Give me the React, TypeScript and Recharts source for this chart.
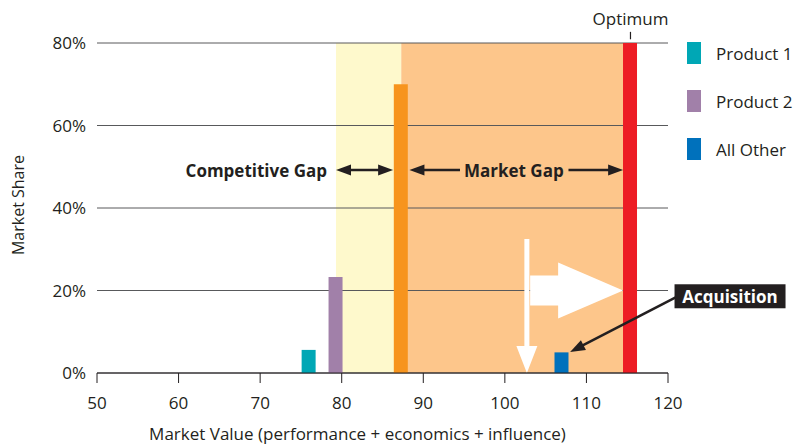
import React from "react";
import {
  Bar,
  CartesianGrid,
  ComposedChart,
  Label,
  ReferenceArea,
  ReferenceDot,
  ReferenceLine,
  XAxis,
  YAxis,
} from "recharts";

// market value (x) and market share (%) of each bar
const marketValues = [76, 79.3, 87.3, 107, 115.4];
const marketShares = [5.6, 23.3, 70, 5, 80];
const seriesKeys = ["product1", "product2", "leader", "allOther", "optimum"];

const legendKeys = ["product1", "product2", "allOther"];
const legendNames = ["Product 1", "Product 2", "All Other"];

const xTicks = [50, 60, 70, 80, 90, 100, 110, 120];
const yTicks = [0, 20, 40, 60, 80];

const colors: Record<string, string> = {
  product1: "#00a7b5",
  product2: "#a180a9",
  leader: "#f7941d",
  allOther: "#0071bc",
  optimum: "#ed1c24",
};

const FONT = '"Open Sans", sans-serif';
const INK = "#231f20";

const data = marketValues.map((mv, i) => ({ mv, [seriesKeys[i]]: marketShares[i] }));

const lineArrow = (both: boolean) => (props: any) => {
  const { x1, y1, x2, y2 } = props;
  const len = Math.hypot(x2 - x1, y2 - y1) || 1;
  const ux = (x2 - x1) / len;
  const uy = (y2 - y1) / len;
  const head = (tx: number, ty: number, dx: number, dy: number) => {
    const bx = tx - dx * 15;
    const by = ty - dy * 15;
    const px = -dy * 5.5;
    const py = dx * 5.5;
    return `${tx},${ty} ${bx + px},${by + py} ${bx - px},${by - py}`;
  };
  return (
    <g>
      <line
        x1={both ? x1 + ux * 12 : x1}
        y1={both ? y1 + uy * 12 : y1}
        x2={x2 - ux * 12}
        y2={y2 - uy * 12}
        stroke={INK}
        strokeWidth={2.5}
      />
      <polygon points={head(x2, y2, ux, uy)} fill={INK} />
      {both && <polygon points={head(x1, y1, -ux, -uy)} fill={INK} />}
    </g>
  );
};

const blockArrow = (shaft: number, headW: number, headL: number) => (props: any) => {
  const { x1, y1, x2, y2 } = props;
  const len = Math.hypot(x2 - x1, y2 - y1) || 1;
  const ux = (x2 - x1) / len;
  const uy = (y2 - y1) / len;
  const nx = -uy;
  const ny = ux;
  const bx = x2 - ux * headL;
  const by = y2 - uy * headL;
  const pts = [
    [x1 + (nx * shaft) / 2, y1 + (ny * shaft) / 2],
    [bx + (nx * shaft) / 2, by + (ny * shaft) / 2],
    [bx + (nx * headW) / 2, by + (ny * headW) / 2],
    [x2, y2],
    [bx - (nx * headW) / 2, by - (ny * headW) / 2],
    [bx - (nx * shaft) / 2, by - (ny * shaft) / 2],
    [x1 - (nx * shaft) / 2, y1 - (ny * shaft) / 2],
  ];
  return <polygon points={pts.map((p) => p.join(",")).join(" ")} fill="#ffffff" />;
};

const textAt = (text: string, anchor: "start" | "middle" | "end") => (props: any) => (
  <text
    x={props.cx}
    y={props.cy}
    textAnchor={anchor}
    dominantBaseline="central"
    fontFamily={FONT}
    fontSize={17}
    fontWeight={700}
    fill={INK}
  >
    {text}
  </text>
);

const acquisitionBox = (props: any) => (
  <g>
    <rect x={props.cx} y={props.cy - 12} width={111} height={24} fill={INK} />
    <text
      x={props.cx + 55.5}
      y={props.cy}
      textAnchor="middle"
      dominantBaseline="central"
      fontFamily={FONT}
      fontSize={17}
      fontWeight={700}
      fill="#ffffff"
    >
      Acquisition
    </text>
  </g>
);

const optimumTick = (props: any) => (
  <g>
    <line x1={props.x1} y1={props.y1} x2={props.x2} y2={props.y2} stroke={INK} strokeWidth={1.2} />
    <text x={props.x2} y={props.y2 - 7} textAnchor="middle" fontFamily={FONT} fontSize={17} fill={INK}>
      Optimum
    </text>
  </g>
);

export default function App() {
  return (
    <div
      style={{
        position: "absolute",
        left: 0,
        top: 0,
        width: 793,
        height: 446,
        background: "#ffffff",
        fontFamily: FONT,
      }}
    >
      <ComposedChart
        width={793}
        height={446}
        data={data}
        margin={{ top: 43, right: 125, bottom: 0, left: 0 }}
      >
        <ReferenceArea
          x1={marketValues[1]}
          x2={marketValues[2]}
          y1={0}
          y2={80}
          fill="#fef9cc"
          fillOpacity={1}
          stroke="none"
        />
        <ReferenceArea
          x1={marketValues[2]}
          x2={marketValues[4]}
          y1={0}
          y2={80}
          fill="#fdc68b"
          fillOpacity={1}
          stroke="none"
        />
        <CartesianGrid vertical={false} stroke="#58595b" strokeWidth={1} zIndex={150} />

        <XAxis
          dataKey="mv"
          type="number"
          domain={[50, 120]}
          ticks={xTicks}
          height={73}
          tickSize={10}
          tickMargin={14}
          stroke={INK}
          tick={{ fill: INK, fontSize: 17, fontFamily: FONT }}
        >
          <Label
            value="Market Value (performance + economics + influence)"
            position="insideBottom"
            offset={6}
            dx={-25}
            fill={INK}
            fontSize={17}
            fontFamily={FONT}
          />
        </XAxis>
        <YAxis
          type="number"
          domain={[0, 80]}
          ticks={yTicks}
          width={97}
          axisLine={false}
          tickLine={false}
          tickMargin={5}
          tickFormatter={(v) => `${v}%`}
          tick={{ fill: INK, fontSize: 17, fontFamily: FONT }}
        >
          <Label
            content={({ viewBox }: any) => (
              <text
                x={18}
                y={viewBox.y + viewBox.height / 2 - 3}
                transform={`rotate(-90 18 ${viewBox.y + viewBox.height / 2 - 3})`}
                textAnchor="middle"
                dominantBaseline="central"
                fontFamily={FONT}
                fontSize={16}
                fill={INK}
              >
                Market Share
              </text>
            )}
          />
        </YAxis>

        {seriesKeys.map((key) => (
          <Bar
            key={key}
            dataKey={key}
            stackId="share"
            barSize={14}
            fill={colors[key]}
            isAnimationActive={false}
          />
        ))}

        {/* white arrows */}
        <ReferenceLine
          segment={[{ x: 102.7, y: 32.5 }, { x: 102.7, y: 0 }]}
          shape={blockArrow(5, 21, 27)}
          ifOverflow="visible"
        />
        <ReferenceLine
          segment={[{ x: 103.1, y: 20 }, { x: 114.5, y: 20 }]}
          shape={blockArrow(30, 56, 65)}
          ifOverflow="visible"
        />

        {/* gap annotations */}
        <ReferenceLine
          segment={[{ x: 79.3, y: 49.2 }, { x: 86.3, y: 49.2 }]}
          shape={lineArrow(true)}
        />
        <ReferenceLine
          segment={[{ x: 94.5, y: 49.2 }, { x: 88.3, y: 49.2 }]}
          shape={lineArrow(false)}
        />
        <ReferenceLine
          segment={[{ x: 107.8, y: 49.2 }, { x: 114.5, y: 49.2 }]}
          shape={lineArrow(false)}
        />
        <ReferenceDot x={78.2} y={49.2} shape={textAt("Competitive Gap", "end")} />
        <ReferenceDot x={101.1} y={49.2} shape={textAt("Market Gap", "middle")} />

        {/* acquisition callout */}
        <ReferenceLine
          segment={[{ x: 121, y: 18.4 }, { x: 108, y: 5.1 }]}
          shape={lineArrow(false)}
          ifOverflow="visible"
        />
        <ReferenceDot x={120.8} y={18.6} shape={acquisitionBox} ifOverflow="visible" />

        {/* optimum marker */}
        <ReferenceLine
          segment={[{ x: marketValues[4], y: 80.9 }, { x: marketValues[4], y: 82.7 }]}
          shape={optimumTick}
          ifOverflow="visible"
        />
      </ComposedChart>

      {legendKeys.map((key, i) => (
        <div
          key={key}
          style={{
            position: "absolute",
            left: 687,
            top: 42 + i * 48,
            display: "flex",
            alignItems: "center",
            gap: 15,
            fontSize: 17,
            color: INK,
            height: 22,
          }}
        >
          <span style={{ width: 14, height: 22, background: colors[key], display: "inline-block" }} />
          {legendNames[i]}
        </div>
      ))}
    </div>
  );
}
